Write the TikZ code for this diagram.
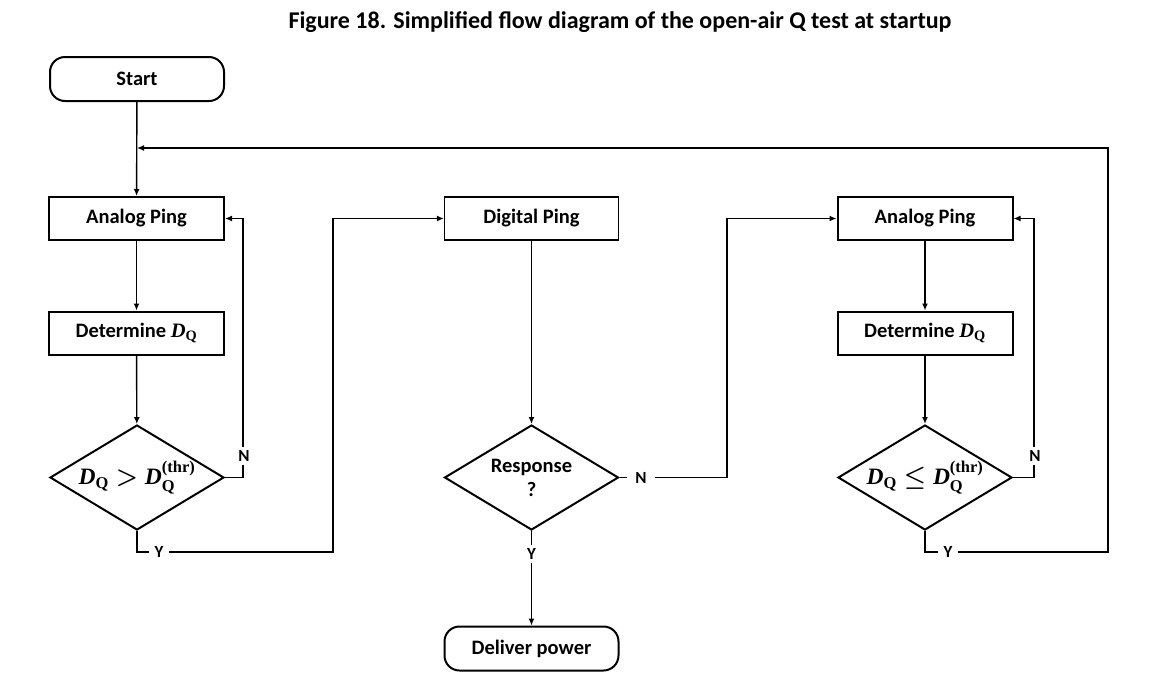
\documentclass[tikz,border=0pt]{standalone}
\usepackage{amsmath}
\usepackage[no-math]{fontspec}
\setmainfont{Carlito}
\newfontfamily\mfont{Liberation Serif}
\usetikzlibrary{shapes.geometric,arrows.meta}
\newcommand{\mD}{\text{\mfont\bfseries\itshape D}}
\newcommand{\mQ}{\text{\mfont\bfseries\upshape Q}}
\newcommand{\mthr}{\text{\mfont\bfseries\upshape (thr)}}
\newcommand{\DQ}{\ensuremath{\mD_{\mQ}}}
\newcommand{\DQthr}{\ensuremath{\mD_{\mQ}^{\mthr}}}
\newcommand{\brel}[1]{\mathrel{\mbox{\boldmath$#1$}}}
\begin{document}
\begin{tikzpicture}[x=1pt,y=-1pt,
  font=\fontsize{20.5}{24}\selectfont\bfseries,
  box/.style={draw,line width=2pt,minimum width=175pt,minimum height=43pt,inner sep=0pt},
  thinbox/.style={draw,line width=1.2pt,minimum width=174pt,minimum height=43pt,inner sep=0pt},
  term/.style={draw,line width=2pt,rounded corners=15pt,minimum width=174pt,minimum height=44pt,inner sep=0pt},
  dec/.style={draw,diamond,line width=2pt,aspect=1.66,minimum width=174pt,minimum height=105pt,inner sep=0pt,align=center},
  mathdec/.style={dec,font=\fontsize{23.5}{26}\selectfont},
  conn/.style={line width=1.4pt},
  arr/.style={conn,-{Latex[length=7pt,width=6pt]}},
  lbl/.style={fill=white,inner sep=3pt,font=\fontsize{17}{20}\selectfont\bfseries}]
\useasboundingbox (0,0) rectangle (1163,681);
\node[font=\fontsize{24}{28}\selectfont\bfseries] (title) at (620,22) {Figure 18. Simplified flow diagram of the open-air Q test at startup};

\node[term] (start) at (137,79) {Start};
\node[box] (ap1) at (136.5,218.5) {Analog Ping};
\node[box] (dq1) at (136.5,333) {Determine \DQ};
\node[mathdec] (d1) at (137,477.5) {$\DQ \brel{>} \DQthr$};

\node[thinbox] (dp) at (531.5,218.5) {Digital Ping};
\node[dec] (r) at (531.5,477.5) {Response\\?};
\node[term] (dl) at (531.5,648.5) {Deliver power};

\node[box] (ap2) at (925,218.5) {Analog Ping};
\node[box] (dq2) at (925,333) {Determine \DQ};
\node[mathdec] (d2) at (925,477.5) {$\DQ \brel{\leq} \DQthr$};

\coordinate (m) at (137,148);
\coordinate (n1) at (243,477.5);
\coordinate (n1t) at (243,218.5);
\coordinate (y1) at (137,552);
\coordinate (y1r) at (333,552);
\coordinate (y1t) at (333,218.5);
\coordinate (n2) at (727,477.5);
\coordinate (n2t) at (727,218.5);
\coordinate (n3) at (1034,477.5);
\coordinate (n3t) at (1034,218.5);
\coordinate (y3) at (925,552);
\coordinate (y3r) at (1108,552);
\coordinate (y3t) at (1108,148);

\draw[arr] (start) -- (ap1);
\draw[arr] (ap1) -- (dq1);
\draw[arr] (dq1) -- (d1);
\draw[arr] (d1.east) -- (n1) -- (n1t) -- (ap1.east);
\node[lbl] (nl1) at (244,456) {N};
\draw[arr] (d1.south) -- (y1) -- (y1r) -- (y1t) -- (dp.west);
\node[lbl,inner xsep=6pt] (yl1) at (159,552) {Y};

\draw[arr] (dp) -- (r);
\draw[arr] (r.east) -- (n2) -- (n2t) -- (ap2.west);
\node[lbl,inner xsep=8pt] (nl2) at (641,477.5) {N};
\draw[arr] (r.south) -- (dl);
\node[lbl] (yl2) at (531.5,554) {Y};

\draw[arr] (ap2) -- (dq2);
\draw[arr] (dq2) -- (d2);
\draw[arr] (d2.east) -- (n3) -- (n3t) -- (ap2.east);
\node[lbl] (nl3) at (1035,456) {N};
\draw[arr] (d2.south) -- (y3) -- (y3r) -- (y3t) -- (m);
\node[lbl,inner xsep=6pt] (yl3) at (948,552) {Y};
\end{tikzpicture}
\end{document}
